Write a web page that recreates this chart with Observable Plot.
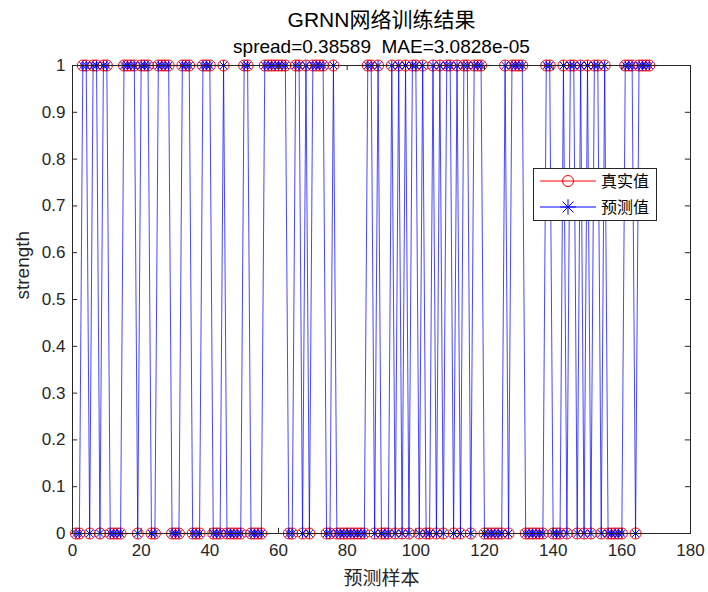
<!DOCTYPE html>
<html>
<head>
<meta charset="utf-8">
<script src="https://cdn.jsdelivr.net/npm/d3@7"></script>
<script src="https://cdn.jsdelivr.net/npm/@observablehq/plot@0.6"></script>
<style>
  html, body { margin: 0; padding: 0; background: #fff; }
  #chart { width: 708px; height: 592px; }
  #chart svg text { white-space: pre; }
</style>
</head>
<body>
<div id="chart"></div>
<script>
// ---- data ----
const truth = [0,0,1,1,0,1,1,0,1,1,
  0,0,0,0,1,1,1,1,0,1,
  1,1,0,0,1,1,1,1,0,0,
  0,1,1,1,0,0,0,1,1,1,
  0,0,0,1,0,0,0,0,0,1,
  1,0,0,0,0,1,1,1,1,1,
  1,1,0,0,1,1,0,1,0,1,
  1,1,1,0,0,1,0,0,0,0,
  0,0,0,0,0,1,1,0,1,0,
  0,0,1,0,1,0,1,0,1,1,
  0,1,0,0,1,0,1,0,1,1,
  0,1,0,1,1,0,1,1,1,0,
  0,0,0,0,0,1,0,1,1,1,
  1,0,0,0,0,0,0,1,1,0,
  0,0,1,0,1,1,0,1,0,1,
  0,1,1,0,1,0,0,0,0,0,
  1,1,1,0,1,1,1,1];
const predicted = [0,0,1,1,0,1,1,0,1,1,
  0,0,0,0,1,1,1,1,0,1,
  1,1,0,0,1,1,1,1,0,0,
  0,1,1,1,0,0,0,1,1,1,
  0,0,0,1,0,0,0,0,0,1,
  1,0,0,0,0,1,1,1,1,1,
  1,1,0,0,1,1,0,1,0,1,
  1,1,1,0,0,1,0,0,0,0,
  0,0,0,0,0,1,1,0,1,0,
  0,0,1,0,1,0,1,0,1,1,
  0,1,0,0,1,0,1,0,1,1,
  0,1,0,1,1,0,1,1,1,0,
  0,0,0,0,0,1,0,1,1,1,
  1,0,0,0,0,0,0,1,1,0,
  0,0,1,0,1,1,0,1,0,1,
  0,1,1,0,1,0,0,0,0,0,
  1,1,1,0,1,1,1,1];
const sampleIndex = truth.map((_, i) => i + 1);
const xTicks = [0, 20, 40, 60, 80, 100, 120, 140, 160, 180];
const yTicks = [0, 0.1, 0.2, 0.3, 0.4, 0.5, 0.6, 0.7, 0.8, 0.9, 1];
const titleText = "GRNN网络训练结果";
const subtitleText = "spread=0.38589  MAE=3.0828e-05";
const xLabel = "预测样本";
const yLabel = "strength";
const seriesNames = ["真实值", "预测值"];

const trueRows = sampleIndex.map((x, i) => ({x, y: truth[i]}));
const predRows = sampleIndex.map((x, i) => ({x, y: predicted[i]}));

const axisColor = "#262626";
const font = "'Liberation Sans', Arial, 'Noto Sans CJK SC', sans-serif";

const chart = Plot.plot({
  width: 708,
  height: 592,
  marginLeft: 72,
  marginRight: 18,
  marginTop: 65,
  marginBottom: 59,
  style: {fontFamily: font, fontSize: "17px", color: axisColor, background: "#fff"},
  x: {domain: [0, 180], ticks: xTicks},
  y: {domain: [0, 1], ticks: yTicks},
  marks: [
    Plot.dot(trueRows, {x: "x", y: "y", r: 5.5, stroke: "#ff0000", strokeWidth: 1, fill: "none"}),
    Plot.line(predRows, {x: "x", y: "y", stroke: "#0000ff", strokeWidth: 1, strokeOpacity: 0.72}),
    Plot.dot(predRows, {x: "x", y: "y", symbol: "plus", r: 3.3, stroke: "#0000ff", strokeWidth: 1}),
    Plot.dot(predRows, {x: "x", y: "y", symbol: "times", r: 3.3, stroke: "#0000ff", strokeWidth: 1}),
    Plot.frame({stroke: axisColor, strokeWidth: 1}),
    // inward ticks (bottom/top, left/right)
    Plot.ruleX(xTicks, {x: d => d, y1: 0, y2: 0.011, stroke: axisColor}),
    Plot.ruleX(xTicks, {x: d => d, y1: 1, y2: 0.989, stroke: axisColor}),
    Plot.ruleY(yTicks, {y: d => d, x1: 0, x2: 1.5, stroke: axisColor}),
    Plot.ruleY(yTicks, {y: d => d, x1: 180, x2: 178.5, stroke: axisColor}),
    Plot.axisX({ticks: xTicks, tickSize: 0, tickPadding: 10, fontSize: 17, label: null, tickFormat: d => String(d)}),
    Plot.axisY({ticks: yTicks, tickSize: 0, tickPadding: 7, fontSize: 17, label: null, tickFormat: d => String(d)}),
    Plot.text([xLabel], {frameAnchor: "bottom", lineAnchor: "middle", dy: 45, text: d => d, fontSize: 19, fill: axisColor}),
    Plot.text([yLabel], {frameAnchor: "left", dx: -50, rotate: -90, text: d => d, fontSize: 19, fill: axisColor}),
    Plot.text([titleText], {frameAnchor: "top", lineAnchor: "middle", dy: -45, text: d => d, fontSize: 21, fill: "#000"}),
    Plot.text([subtitleText], {frameAnchor: "top", lineAnchor: "middle", dy: -19, text: d => d, fontSize: 19, fill: "#000"})
  ]
});

// legend inside the axes (upper right area)
const svg = d3.select(chart);
const lg = svg.append("g").attr("font-family", font).attr("text-anchor", "start");
lg.append("rect").attr("x", 533.5).attr("y", 168.5).attr("width", 123).attr("height", 52)
  .attr("fill", "#fff").attr("stroke", axisColor);
const rows = [
  {name: seriesNames[0], color: "#ff0000", y: 181, kind: "circle"},
  {name: seriesNames[1], color: "#0000ff", y: 207, kind: "star"}
];
rows.forEach(r => {
  lg.append("line").attr("x1", 540).attr("x2", 596).attr("y1", r.y).attr("y2", r.y)
    .attr("stroke", r.color).attr("stroke-width", 1);
  if (r.kind === "circle") {
    lg.append("circle").attr("cx", 568).attr("cy", r.y).attr("r", 5.5)
      .attr("fill", "none").attr("stroke", r.color);
  } else {
    lg.append("path").attr("transform", `translate(568,${r.y})`)
      .attr("d", d3.symbol(d3.symbolPlus, 80)()).attr("fill", "none").attr("stroke", r.color);
    lg.append("path").attr("transform", `translate(568,${r.y})`)
      .attr("d", d3.symbol(d3.symbolTimes, 80)()).attr("fill", "none").attr("stroke", r.color);
  }
  lg.append("text").attr("x", 601).attr("y", r.y).attr("dy", "0.36em")
    .attr("font-size", 16).attr("fill", "#000").text(r.name);
});

document.getElementById("chart").appendChild(chart);
</script>
</body>
</html>
